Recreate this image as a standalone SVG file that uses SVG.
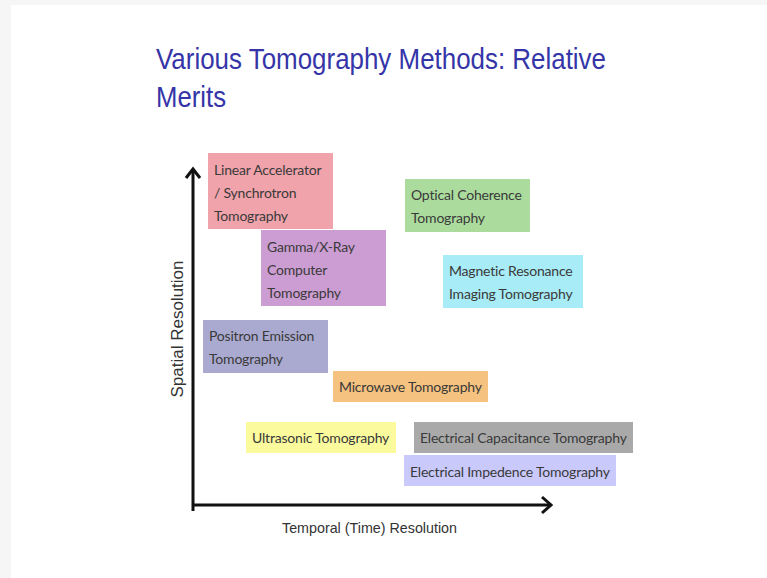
<svg xmlns="http://www.w3.org/2000/svg" width="767" height="578" viewBox="0 0 767 578">
<style>
.box text{font-family:Lato,"Open Sans",sans-serif;font-size:14px;fill:#3a3a3a;letter-spacing:-0.2px}
.title{font-family:"Liberation Sans",Arial,sans-serif;font-size:29px;fill:#3535a8}
.axl{font-family:"Liberation Sans",Arial,sans-serif;font-size:15px;fill:#333}
.ax{stroke:#111;stroke-width:3;fill:none}
</style>
<rect x="0" y="0" width="767" height="578" fill="#f6f6f6"/>
<rect x="11" y="5" width="756" height="573" fill="#ffffff"/>
<text class="title" x="156" y="69" textLength="450" lengthAdjust="spacingAndGlyphs">Various Tomography Methods: Relative</text>
<text class="title" x="156" y="107" textLength="70" lengthAdjust="spacingAndGlyphs">Merits</text>
<g id="connectors">
<path class="ax" d="M193,170 V511"/>
<path class="ax" d="M193,505 H551"/>
<path class="ax" d="M186,178 L193,169 L200,178"/>
<path class="ax" d="M542,497 L551,505 L542,513"/>
</g>
<text class="axl" x="282" y="533" textLength="175" lengthAdjust="spacingAndGlyphs">Temporal (Time) Resolution</text>
<text class="axl" style="font-size:17px" transform="translate(183,329) rotate(-90)" text-anchor="middle">Spatial Resolution</text>
<g id="linac" class="box"><rect x="208" y="153" width="125" height="76" fill="#f0a3ab"/><text x="214" y="175">Linear Accelerator</text><text x="214" y="198">/ Synchrotron</text><text x="214" y="221">Tomography</text></g>
<g id="gamma" class="box"><rect x="261" y="230" width="125" height="76" fill="#cc9dd2"/><text x="267" y="252">Gamma/X-Ray</text><text x="267" y="275">Computer</text><text x="267" y="298">Tomography</text></g>
<g id="oct" class="box"><rect x="405" y="179" width="125" height="53" fill="#abdc9d"/><text x="411" y="200">Optical Coherence</text><text x="411" y="223">Tomography</text></g>
<g id="mri" class="box"><rect x="443" y="255" width="140" height="53" fill="#a7ecf6"/><text x="449" y="276">Magnetic Resonance</text><text x="449" y="299">Imaging Tomography</text></g>
<g id="pet" class="box"><rect x="203" y="320" width="125" height="53" fill="#aaaad0"/><text x="209" y="341">Positron Emission</text><text x="209" y="364">Tomography</text></g>
<g id="microwave" class="box"><rect x="333" y="371" width="155" height="31" fill="#f5c27f"/><text x="339" y="392">Microwave Tomography</text></g>
<g id="ultrasonic" class="box"><rect x="246" y="422" width="150" height="31" fill="#fbfb9e"/><text x="252" y="443">Ultrasonic Tomography</text></g>
<g id="ect" class="box"><rect x="414" y="422" width="219" height="31" fill="#a9a9a9"/><text x="420" y="443">Electrical Capacitance Tomography</text></g>
<g id="eit" class="box"><rect x="404" y="455" width="212" height="31" fill="#c9c9fb"/><text x="410" y="477">Electrical Impedence Tomography</text></g>
</svg>
